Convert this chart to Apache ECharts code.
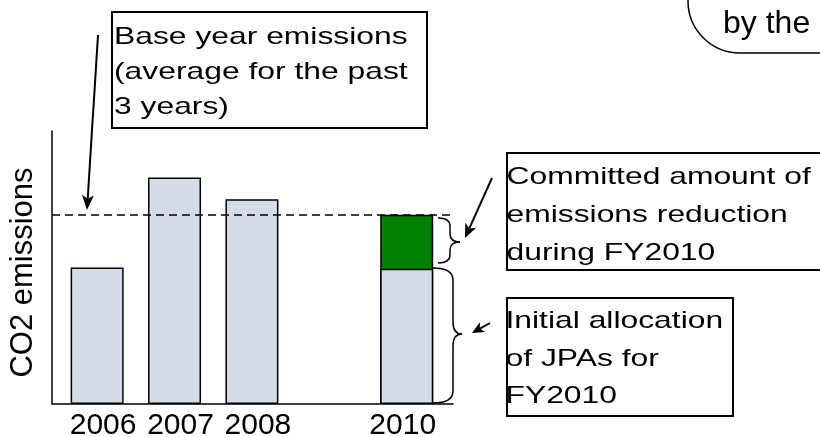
<!DOCTYPE html>
<html>
<head>
<meta charset="utf-8">
<script src="https://cdn.jsdelivr.net/npm/echarts@6/dist/echarts.min.js"></script>
<style>
html,body{margin:0;padding:0;background:#fff;}
#chart{width:820px;height:437px;}
</style>
</head>
<body>
<div id="chart"></div>
<script>
// ---- data ----
const categories = ['2006', '2007', '2008', '2010'];
const years = [2006, 2007, 2008, 2010];
// 2006-2008: actual emissions; 2010: initial allocation of JPAs
const grayValues = [50, 83, 75, 49.5];
// 2010 level after adding the committed emissions reduction (top of the green block)
const greenTopValues = ['-', '-', '-', 69.3];
// base year emissions (average for the past 3 years)
const baseYearEmissions = 69.3;
const yAxisTitle = 'CO2 emissions';

const FONT = "'Liberation Sans', Arial, sans-serif";
const SX = 1.326;
const LINE = { stroke: '#000', lineWidth: 1.5, fill: 'none' };

function arrow(x1, y1, x2, y2, len, hw) {
  const dx = x2 - x1, dy = y2 - y1;
  const d = Math.sqrt(dx * dx + dy * dy);
  const ux = dx / d, uy = dy / d;
  const px = -uy, py = ux;
  const bx = x2 - ux * len, by = y2 - uy * len;
  const nx = x2 - ux * len * 0.75, ny = y2 - uy * len * 0.75;
  return [
    { type: 'line', z: 10, shape: { x1: x1, y1: y1, x2: nx, y2: ny }, style: { stroke: '#000', lineWidth: 2 } },
    { type: 'polygon', z: 10, shape: { points: [[x2, y2], [bx + px * hw, by + py * hw], [nx, ny], [bx - px * hw, by - py * hw]] }, style: { fill: '#000' } }
  ];
}

// right-facing curly brace: ends at xe, spine at xs, tip at xt
function brace(xe, xs, xt, yTop, yTip, yBot, r) {
  const q = (x1, y1, cx, cy, x2, y2) => ({ type: 'bezierCurve', z: 10, shape: { x1: x1, y1: y1, cpx1: cx, cpy1: cy, x2: x2, y2: y2 }, style: LINE });
  const l = (x1, y1, x2, y2) => ({ type: 'line', z: 10, shape: { x1: x1, y1: y1, x2: x2, y2: y2 }, style: LINE });
  return [
    q(xe, yTop, xs, yTop, xs, yTop + r),
    l(xs, yTop + r, xs, yTip - r),
    q(xs, yTip - r, xs, yTip, xt, yTip),
    q(xt, yTip, xs, yTip, xs, yTip + r),
    l(xs, yTip + r, xs, yBot - r),
    q(xs, yBot - r, xs, yBot, xe, yBot)
  ];
}

function boxText(x, y, text, lh, fs, sx) {
  return { type: 'text', x: x, y: y, scaleX: sx, z: 11,
    style: { text: text, fontSize: fs, fontFamily: FONT, fill: '#000', lineHeight: lh, verticalAlign: 'top', align: 'left' } };
}

const graphics = [
  { type: 'rect', z: 9, shape: { x: 112, y: 12, width: 315, height: 116 }, style: { fill: '#fff', stroke: '#000', lineWidth: 2 } },
  boxText(114, 20, 'Base year emissions\n(average for the past\n3 years)', 35, 24, SX),
  { type: 'rect', z: 9, shape: { x: 507, y: 153, width: 330, height: 117 }, style: { fill: '#fff', stroke: '#000', lineWidth: 2 } },
  boxText(506.5, 158, 'Committed amount of\nemissions reduction\nduring FY2010', 38, 24, SX),
  { type: 'rect', z: 9, shape: { x: 507, y: 298, width: 226, height: 118 }, style: { fill: '#fff', stroke: '#000', lineWidth: 2 } },
  boxText(505.5, 303, 'Initial allocation\nof JPAs for\nFY2010', 37.5, 24, SX),
  { type: 'rect', z: 9, shape: { x: 688, y: -120, width: 300, height: 173, r: [0, 0, 0, 52] }, style: { fill: 'none', stroke: '#000', lineWidth: 1.5 } },
  boxText(723, 8, 'by the', 32, 32, 1)
].concat(brace(438, 450, 460, 218, 242, 263, 8))
 .concat(brace(433, 453, 462, 268, 334, 403, 12))
 .concat(arrow(98, 35, 87, 210, 15, 6))
 .concat(arrow(492, 178, 465, 238, 14, 6))
 .concat(arrow(490, 323, 472, 333, 12, 5.5));

const labelRich = {
  r: { fontSize: 30, fontFamily: FONT, color: '#000', padding: [0, 0, 0, 12] },
  l: { fontSize: 30, fontFamily: FONT, color: '#000', padding: [0, 8, 0, 0] }
};

const chart = echarts.init(document.getElementById('chart'), null, { renderer: 'canvas' });
chart.setOption({
  animation: false,
  backgroundColor: '#fff',
  grid: { left: 52, right: 367, top: 131, bottom: 33, containLabel: false, outerBoundsMode: 'none' },
  xAxis: {
    type: 'value',
    min: 2005.417,
    max: 2010.598,
    splitLine: { show: false },
    axisTick: { show: false },
    axisLine: { show: true, onZero: false, lineStyle: { color: '#000', width: 1.5 } },
    axisLabel: {
      customValues: years,
      formatter: function (v) {
        const i = years.indexOf(Math.round(v));
        if (i < 0) return '';
        return (i === years.length - 1 ? '{l|' : '{r|') + categories[i] + '}';
      },
      rich: labelRich,
      fontSize: 30, fontFamily: FONT, color: '#000', margin: 7
    }
  },
  yAxis: {
    type: 'value', min: 0, max: 100,
    splitLine: { show: false },
    axisTick: { show: false },
    axisLabel: { show: false },
    axisLine: { show: true, lineStyle: { color: '#000', width: 1.5 } },
    name: yAxisTitle, nameLocation: 'middle', nameRotate: 90, nameGap: 13,
    nameTextStyle: { fontSize: 31, fontFamily: FONT, color: '#000', padding: [0, 10, 0, 0] }
  },
  series: [
    {
      name: 'reduction',
      type: 'bar', barWidth: 53, barGap: '-100%',
      data: years.map((y, i) => [y, greenTopValues[i]]),
      itemStyle: { color: '#008000', borderColor: '#000', borderWidth: 1.5 }
    },
    {
      name: 'emissions',
      type: 'bar', barWidth: 53, barGap: '-100%',
      data: years.map((y, i) => [y, grayValues[i]]),
      itemStyle: { color: '#D5DCE8', borderColor: '#000', borderWidth: 1.5 },
      markLine: {
        silent: true, symbol: ['none', 'none'], label: { show: false },
        lineStyle: { color: '#000', width: 1.5, type: [8, 5] },
        data: [{ yAxis: baseYearEmissions }]
      }
    }
  ],
  graphic: graphics
});
</script>
</body>
</html>
